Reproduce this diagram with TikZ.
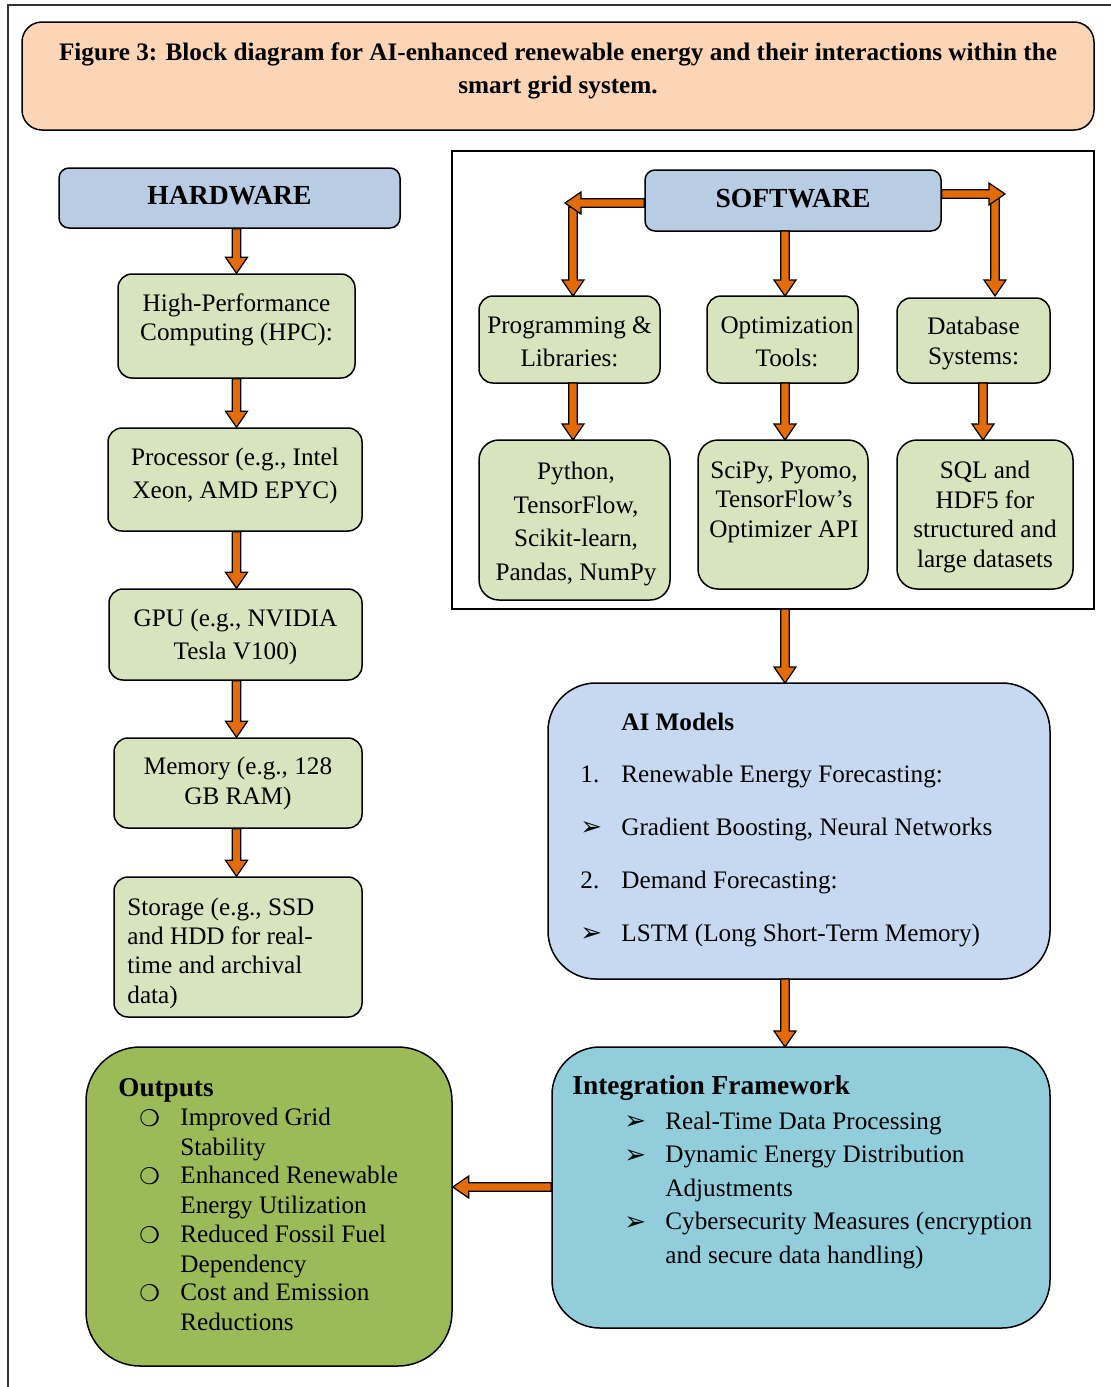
\documentclass[tikz,border=0pt]{standalone}
\usepackage{fontspec}
\setmainfont{Liberation Serif}
\newfontfamily\dingfont{DejaVu Sans}
\usetikzlibrary{calc}
\definecolor{peach}{HTML}{FBD5B5}
\definecolor{hwblue}{HTML}{B8CCE4}
\definecolor{lgreen}{HTML}{D7E4BD}
\definecolor{aiblue}{HTML}{C6D9F1}
\definecolor{intblue}{HTML}{92CDDC}
\definecolor{outgreen}{HTML}{9BBB59}
\definecolor{arrowor}{HTML}{E36C09}
\begin{document}
\begin{tikzpicture}[x=0.5pt,y=-0.5pt,
  box/.style={draw=black, line width=0.75pt, inner sep=0pt},
  sbox/.style={box, fill=lgreen, rounded corners=7pt},
  txt/.style={inner sep=0pt, font=\fontsize{12.6}{14.5}\selectfont, align=center, anchor=base},
  ltxt/.style={inner sep=0pt, font=\fontsize{12.6}{14.5}\selectfont, align=left, anchor=base west},
  ding/.style={inner sep=0pt, font=\dingfont\fontsize{13}{14}\selectfont, anchor=base west},
  odot/.style={inner sep=0pt, font=\dingfont\fontsize{11.5}{14}\selectfont, anchor=base west},
  fat/.style={fill=arrowor, draw=black, line width=0.6pt, line join=miter,
    to path={
      ($(\tikztostart)!2.1pt!90:(\tikztotarget)$)
      -- ($(\tikztotarget)!8pt!(\tikztostart)!2.1pt!90:(\tikztotarget)$)
      -- ($(\tikztotarget)!8pt!(\tikztostart)!5.5pt!90:(\tikztotarget)$)
      -- (\tikztotarget)
      -- ($(\tikztotarget)!8pt!(\tikztostart)!5.5pt!-90:(\tikztotarget)$)
      -- ($(\tikztotarget)!8pt!(\tikztostart)!2.1pt!-90:(\tikztotarget)$)
      -- ($(\tikztostart)!2.1pt!-90:(\tikztotarget)$)
      -- cycle}}
]
\useasboundingbox (0,0) rectangle (1111,1387);
% outer frame
\draw[line width=0.7pt, black!80] (8,1387) -- (8,5) -- (1111,5);

% title
\node[box, fill=peach, rounded corners=10pt, minimum width=536pt, minimum height=54pt] (title) at (558,76) {};
\node[txt, font=\bfseries\fontsize{12.6}{16.5}\selectfont] (titleT) at (558,93)
  {Figure 3: Block diagram for AI-enhanced renewable energy and their interactions within the\\smart grid system.};

% hardware column
\node[box, fill=hwblue, rounded corners=5pt, minimum width=170.5pt, minimum height=30pt] (hw) at (229.5,198) {};
\node[txt, font=\bfseries\fontsize{13.8}{15}\selectfont] (hwT) at (229.5,204) {HARDWARE};
\node[sbox, minimum width=118.5pt, minimum height=52pt] (hpc) at (236.5,326) {};
\node[txt] (hpcT) at (236.5,340) {High-Performance\\Computing (HPC):};
\node[sbox, minimum width=127pt, minimum height=51.5pt] (proc) at (235,479.5) {};
\node[txt, font=\fontsize{12.6}{16.5}\selectfont] (procT) at (235,498) {Processor (e.g., Intel\\Xeon, AMD EPYC)};
\node[sbox, minimum width=126.5pt, minimum height=45.5pt] (gpu) at (235.5,634.5) {};
\node[txt, font=\fontsize{12.6}{16.5}\selectfont] (gpuT) at (235.5,659) {GPU (e.g., NVIDIA\\Tesla V100)};
\node[sbox, minimum width=124pt, minimum height=45pt] (mem) at (238,783) {};
\node[txt, font=\fontsize{12.6}{15}\selectfont] (memT) at (238,804) {Memory (e.g., 128\\GB RAM)};
\node[sbox, minimum width=124pt, minimum height=70pt] (sto) at (238,947) {};
\node[ltxt, font=\fontsize{12.6}{14.6}\selectfont] (stoT) at (127,1003) {Storage (e.g., SSD\\and HDD for real-\\time and archival\\data)};

\path[fat] (hw.south -| hpc.north) to (hpc.north);
\path[fat] (hpc.south) to (hpc.south |- proc.north);
\path[fat] (hpc.south |- proc.south) to (hpc.south |- gpu.north);
\path[fat] (hpc.south |- gpu.south) to (hpc.south |- mem.north);
\path[fat] (hpc.south |- mem.south) to (hpc.south |- sto.north);

% software frame
\node[draw=black, line width=0.75pt, inner sep=0pt, minimum width=321pt, minimum height=229pt] (swf) at (773,380) {};
\node[box, fill=hwblue, rounded corners=5pt, minimum width=148pt, minimum height=30.5pt] (sw) at (793,200.5) {};
\node[txt, font=\bfseries\fontsize{13.8}{15}\selectfont] (swT) at (793,207) {SOFTWARE};

\node[sbox, minimum width=90.5pt, minimum height=43.5pt] (prog) at (569.5,339.5) {};
\node[txt, font=\fontsize{12.6}{16.5}\selectfont] (progT) at (569.5,366) {Programming \&\\Libraries:};
\node[sbox, minimum width=75.5pt, minimum height=43.5pt] (opt) at (782.5,339.5) {};
\node[txt, font=\fontsize{12.6}{16.5}\selectfont] (optT) at (787,366) {Optimization\\Tools:};
\node[sbox, minimum width=76.5pt, minimum height=42.5pt] (db) at (973.5,340.5) {};
\node[txt, font=\fontsize{12.6}{15}\selectfont] (dbT) at (973.5,364) {Database\\Systems:};

\node[sbox, rounded corners=10pt, minimum width=95.5pt, minimum height=80pt] (py) at (574.5,520) {};
\node[txt, font=\fontsize{12.6}{16.75}\selectfont] (pyT) at (576,580) {Python,\\TensorFlow,\\Scikit-learn,\\Pandas, NumPy};
\node[sbox, rounded corners=10pt, minimum width=85pt, minimum height=74.5pt] (sci) at (783,514.5) {};
\node[txt, font=\fontsize{12.6}{14.6}\selectfont] (sciT) at (784,537) {SciPy, Pyomo,\\TensorFlow’s\\Optimizer API};
\node[sbox, rounded corners=10pt, minimum width=88pt, minimum height=74.5pt] (sql) at (985,514.5) {};
\node[txt, font=\fontsize{12.6}{14.7}\selectfont] (sqlT) at (985,567) {SQL and\\HDF5 for\\structured and\\large datasets};

\coordinate (lt) at (565,203);
\coordinate (rt) at (1005,194);
\path[fat] (573,207) to (573,296);
\path[fat] (sw.west |- lt) to (lt);
\path[fat] (995,198) to (995,296);
\path[fat] (sw.east |- rt) to (rt);
\path[fat] (785,231) to (785,296);
\path[fat] (573,383) to (573,440);
\path[fat] (785,383) to (785,440);
\path[fat] (983,383) to (983,440);

% AI models
\node[box, fill=aiblue, rounded corners=24pt, minimum width=251pt, minimum height=148pt] (ai) at (799,831) {};
\node[ltxt, font=\bfseries\fontsize{12.6}{14.5}\selectfont] (aiT) at (621,730) {AI Models};
\node[ltxt] (ai1n) at (580,782) {1.};
\node[ltxt] (ai1) at (621,782) {Renewable Energy Forecasting:};
\node[ding] (ai2n) at (580,835) {➢};
\node[ltxt] (ai2) at (621,835) {Gradient Boosting, Neural Networks};
\node[ltxt] (ai3n) at (580,888) {2.};
\node[ltxt] (ai3) at (621,888) {Demand Forecasting:};
\node[ding] (ai4n) at (580,941) {➢};
\node[ltxt] (ai4) at (621,941) {LSTM (Long Short-Term Memory)};

\path[fat] (785,609) to (785,683);

% integration
\node[box, fill=intblue, rounded corners=24pt, minimum width=249pt, minimum height=140.5pt] (int) at (801,1187.5) {};
\node[ltxt, font=\bfseries\fontsize{13.7}{14.5}\selectfont] (intT) at (572,1094) {Integration Framework};
\node[ding] (in1n) at (624,1129) {➢};
\node[ltxt] (in1) at (665,1129) {Real-Time Data Processing};
\node[ding] (in2n) at (624,1163) {➢};
\node[ltxt, font=\fontsize{12.6}{16.75}\selectfont] (in2) at (665,1196) {Dynamic Energy Distribution\\Adjustments};
\node[ding] (in3n) at (624,1230) {➢};
\node[ltxt, font=\fontsize{12.6}{16.75}\selectfont] (in3) at (665,1263) {Cybersecurity Measures (encryption\\and secure data handling)};

\path[fat] (785,979) to (785,1047);

% outputs
\node[box, fill=outgreen, rounded corners=27pt, minimum width=183pt, minimum height=159.5pt] (out) at (269,1206.5) {};
\node[ltxt, font=\bfseries\fontsize{13.6}{14.5}\selectfont] (outT) at (118,1096) {Outputs};
\node[odot] (o1n) at (139,1126) {❍};
\node[ltxt, font=\fontsize{12.6}{14.6}\selectfont] (o1) at (180,1155) {Improved Grid\\Stability};
\node[odot] (o2n) at (139,1184) {❍};
\node[ltxt, font=\fontsize{12.6}{14.6}\selectfont] (o2) at (180,1213) {Enhanced Renewable\\Energy Utilization};
\node[odot] (o3n) at (139,1243) {❍};
\node[ltxt, font=\fontsize{12.6}{14.6}\selectfont] (o3) at (180,1272) {Reduced Fossil Fuel\\Dependency};
\node[odot] (o4n) at (139,1301) {❍};
\node[ltxt, font=\fontsize{12.6}{14.6}\selectfont] (o4) at (180,1330) {Cost and Emission\\Reductions};

\path[fat] (int.west |- 0,1187) to (out.east |- 0,1187);
\end{tikzpicture}
\end{document}
